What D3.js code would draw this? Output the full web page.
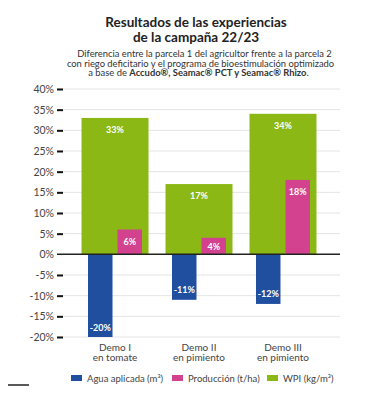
<!DOCTYPE html>
<html><head><meta charset="utf-8">
<script src="https://cdn.jsdelivr.net/npm/d3@7"></script>
<style>
body{margin:0;background:#fff;}
svg{display:block;font-family:Lato,"Open Sans",sans-serif;}
</style></head>
<body><svg id="c" width="372" height="400"></svg>
<script>
const categories = ["Demo I", "Demo II", "Demo III"];
const categorySub = ["en tomate", "en pimiento", "en pimiento"];
const agua = [-20, -11, -12];
const produccion = [6, 4, 18];
const wpi = [33, 17, 34];
const yTicks = [-20, -15, -10, -5, 0, 5, 10, 15, 20, 25, 30, 35, 40];
const seriesNames = ["Agua aplicada (m³)", "Producción (t/ha)", "WPI (kg/m³)"];
const colors = {agua:"#1f4f9e", prod:"#d2428f", wpi:"#8cb815"};

const svg = d3.select("#c");
const y = d3.scaleLinear().domain([-20, 40]).range([337, 89]);
const x = d3.scaleBand().domain(categories).range([58, 340]).paddingInner(0.2024).paddingOuter(0.28);
const sub = d3.scaleBand().domain(["agua","prod"]).range([0, x.bandwidth()]).paddingInner(0.17).paddingOuter(0.22);

// Title
const t = svg.append("g").attr("text-anchor","middle").attr("fill","#222");
t.append("text").attr("x",196).attr("y",27).attr("font-size",13.5).attr("font-weight",700).text("Resultados de las experiencias");
t.append("text").attr("x",196).attr("y",42).attr("font-size",13.5).attr("font-weight",700).text("de la campaña 22/23");
const st = svg.append("g").attr("text-anchor","middle").attr("fill","#333").attr("font-size",9.4);
st.append("text").attr("x",204.5).attr("y",57).text("Diferencia entre la parcela 1 del agricultor frente a la parcela 2");
st.append("text").attr("x",200.5).attr("y",66.5).text("con riego deficitario y el programa de bioestimulación optimizado");
const l3 = st.append("text").attr("x",198.5).attr("y",76);
l3.append("tspan").text("a base de ");
l3.append("tspan").attr("font-weight",700).text("Accudo®, Seamac® PCT y Seamac® Rhizo");
l3.append("tspan").text(".");

// grid
svg.append("g").selectAll("line").data(yTicks.filter(d=>d!==0)).join("line")
  .attr("x1",58).attr("x2",340).attr("y1",d=>y(d)).attr("y2",d=>y(d))
  .attr("stroke","#e4e4e4").attr("stroke-width",1);

// y axis
const ya = svg.append("g").attr("transform","translate(63,0)")
  .call(d3.axisLeft(y).tickValues(yTicks).tickFormat(d=>d+"%").tickSize(6).tickPadding(3));
ya.select(".domain").remove();
ya.selectAll(".tick line").attr("stroke","#111").attr("stroke-width",2).filter(d=>d===0).remove();
ya.selectAll(".tick text").attr("font-size",10.5).attr("fill","#444").attr("font-family","Lato,'Open Sans',sans-serif");

// bars
const g = svg.append("g");
g.selectAll(".wpi").data(wpi).join("rect").attr("class","wpi")
  .attr("x",(d,i)=>x(categories[i])).attr("width",x.bandwidth())
  .attr("y",d=>y(d)).attr("height",d=>y(0)-y(d)).attr("fill",colors.wpi);
g.selectAll(".prod").data(produccion).join("rect").attr("class","prod")
  .attr("x",(d,i)=>x(categories[i])+sub("prod")).attr("width",sub.bandwidth())
  .attr("y",d=>y(d)).attr("height",d=>y(0)-y(d)).attr("fill",colors.prod);
g.selectAll(".agua").data(agua).join("rect").attr("class","agua")
  .attr("x",(d,i)=>x(categories[i])+sub("agua")).attr("width",sub.bandwidth())
  .attr("y",y(0)).attr("height",d=>y(d)-y(0)).attr("fill",colors.agua);

// zero line
svg.append("line").attr("x1",57).attr("x2",340).attr("y1",y(0)).attr("y2",y(0)).attr("stroke","#222").attr("stroke-width",1.5);

// bar labels
const lab = svg.append("g").attr("fill","#fff").attr("font-size",9).attr("font-weight",700).attr("text-anchor","middle");
lab.selectAll(".lw").data(wpi).join("text")
  .attr("x",(d,i)=>x(categories[i])+x.bandwidth()/2).attr("y",d=>y(d)+15).text(d=>d+"%");
lab.selectAll(".lp").data(produccion).join("text")
  .attr("x",(d,i)=>x(categories[i])+sub("prod")+sub.bandwidth()/2)
  .attr("y",d=>y(d)+Math.min(15,(y(0)-y(d))/2+3.5)).text(d=>d+"%");
lab.selectAll(".la").data(agua).join("text")
  .attr("x",(d,i)=>x(categories[i])+sub("agua")+sub.bandwidth()/2)
  .attr("y",d=>y(d)-6.5).text(d=>d+"%");

// x labels
const xl = svg.append("g").attr("fill","#444").attr("font-size",10).attr("text-anchor","middle");
xl.selectAll(".c1").data(categories).join("text").attr("x",d=>x(d)+x.bandwidth()/2).attr("y",350.5).text(d=>d);
xl.selectAll(".c2").data(categorySub).join("text").attr("x",(d,i)=>x(categories[i])+x.bandwidth()/2).attr("y",361).text(d=>d);

// legend
const legX = [71, 172, 267];
const legC = [colors.agua, colors.prod, colors.wpi];
const lg = svg.append("g").selectAll("g").data(seriesNames).join("g").attr("transform",(d,i)=>`translate(${legX[i]},375)`);
lg.append("rect").attr("width",11).attr("height",6).attr("fill",(d,i)=>legC[i]);
lg.append("text").attr("x",16).attr("y",6.5).attr("font-size",9.5).attr("fill","#444").text(d=>d);

// bottom-left dash
svg.append("line").attr("x1",8).attr("x2",29).attr("y1",385).attr("y2",385).attr("stroke","#222").attr("stroke-width",1.5);
</script></body></html>
